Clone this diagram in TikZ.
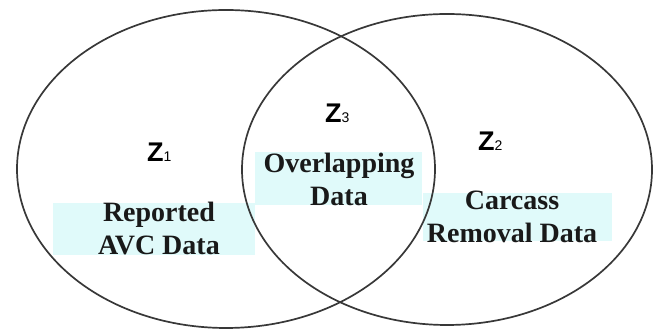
\documentclass[tikz,border=0pt]{standalone}
\usepackage{fontspec}
\setmainfont{Liberation Serif}
\setsansfont{Liberation Sans}
\begin{document}
\begin{tikzpicture}[x=1pt,y=1pt,
  setline/.style={draw=black!78, line width=1.7pt},
  bgbox/.style={fill=cyanbg, draw=none},
  datalabel/.style={font=\fontsize{28}{33}\selectfont\bfseries, text=black!90, align=center, inner sep=0pt},
  zlabel/.style={font=\fontsize{27}{27}\selectfont\sffamily\bfseries, text=black, inner sep=0pt, anchor=base west}
]
\definecolor{cyanbg}{RGB}{224,250,250}
\useasboundingbox (0,0) rectangle (659,331);
% background boxes
\fill[bgbox] (53,76) rectangle (255,128);
\fill[bgbox] (255,126) rectangle (422,179);
\fill[bgbox] (423,90) rectangle (612,138);
% sets
\draw[setline] (226,162) ellipse [x radius=209, y radius=159];
\draw[setline] (447,161.5) ellipse [x radius=205, y radius=155.5];
% labels
\node[zlabel] (z1) at (147,169) {Z{\fontsize{14}{14}\selectfont\mdseries 1}};
\node[zlabel] (z3) at (325,208) {Z{\fontsize{14}{14}\selectfont\mdseries 3}};
\node[zlabel] (z2) at (478,180) {Z{\fontsize{14}{14}\selectfont\mdseries 2}};
\node[datalabel] (avc) at (159,102) {Reported\\AVC Data};
\node[datalabel] (ovl) at (339,152) {Overlapping\\Data};
\node[datalabel] (car) at (512,114) {Carcass\\Removal Data};
\end{tikzpicture}
\end{document}
